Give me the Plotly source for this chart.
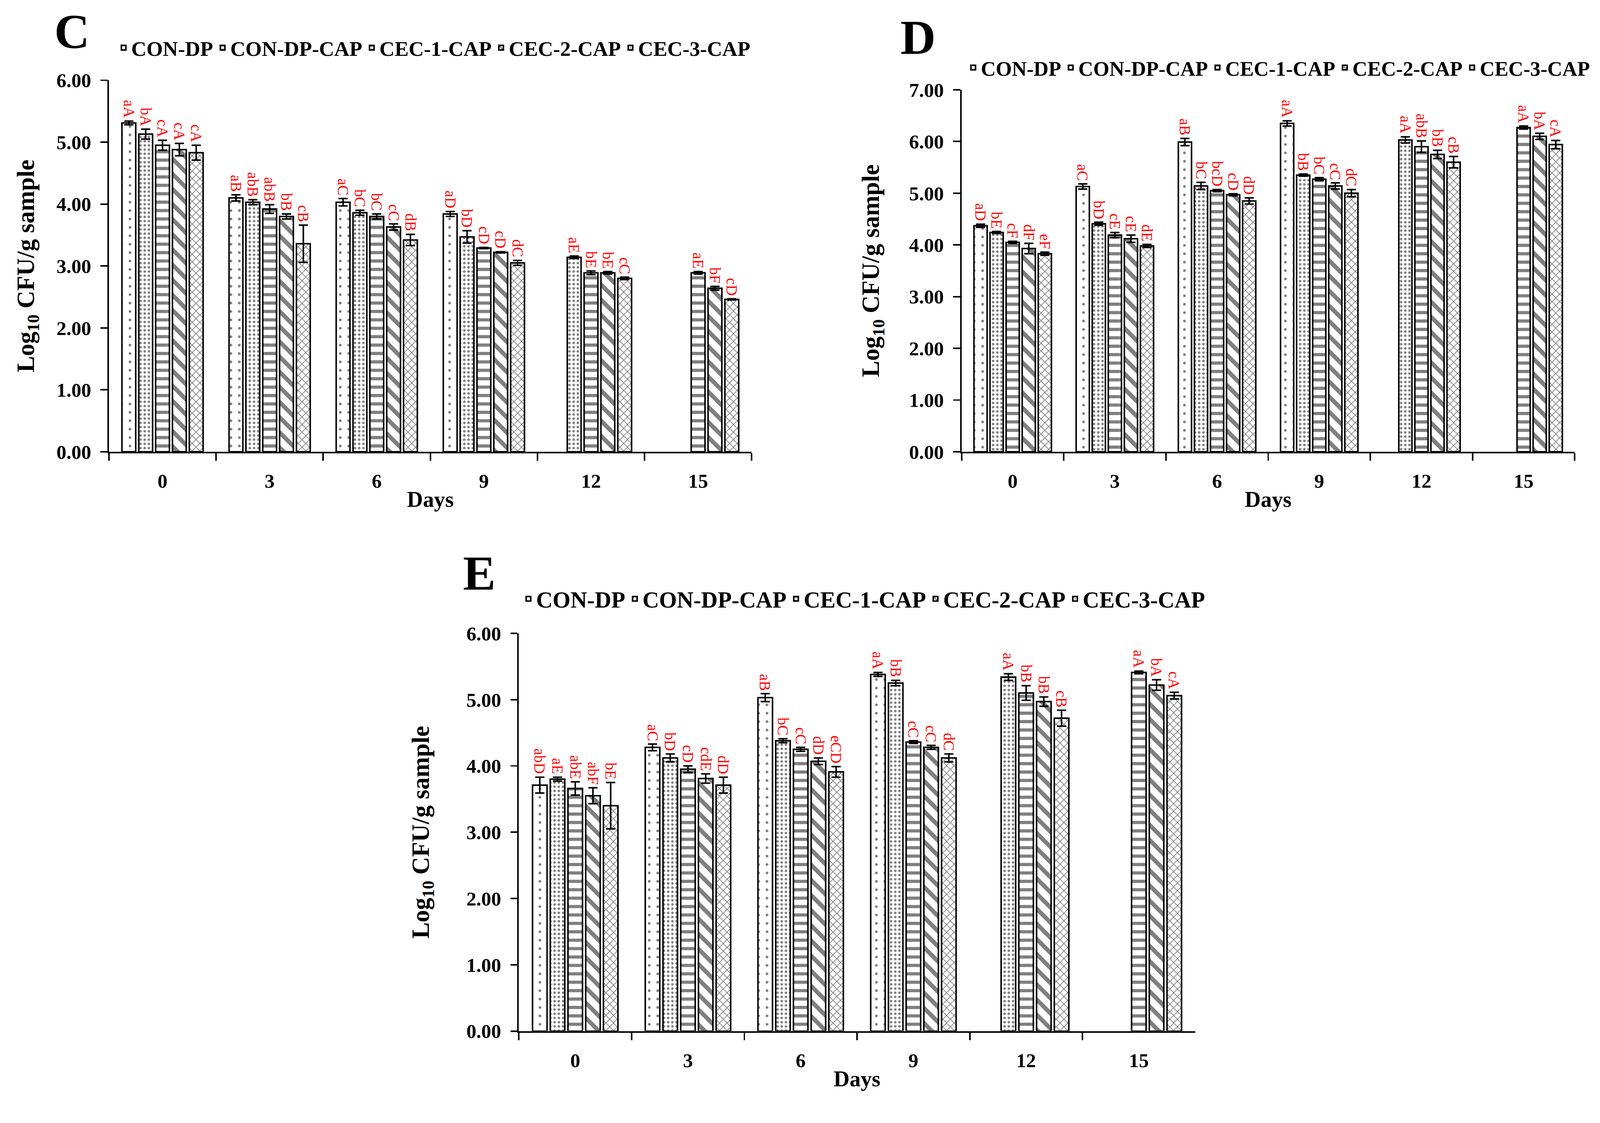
import plotly.graph_objects as go

days = ["0", "3", "6", "9", "12", "15"]
series = ["CON-DP", "CON-DP-CAP", "CEC-1-CAP", "CEC-2-CAP", "CEC-3-CAP"]

# ---------- Panel C ----------
c_means = [
    [5.31, 4.10, 4.03, 3.84, None, None],
    [5.13, 4.03, 3.86, 3.47, 3.14, None],
    [4.95, 3.92, 3.80, 3.29, 2.89, 2.89],
    [4.88, 3.80, 3.63, 3.22, 2.89, 2.64],
    [4.83, 3.36, 3.42, 3.05, 2.80, 2.46],
]
c_errors = [
    [0.03, 0.05, 0.06, 0.04, None, None],
    [0.08, 0.04, 0.04, 0.10, 0.02, None],
    [0.08, 0.07, 0.04, 0.01, 0.03, 0.02],
    [0.10, 0.04, 0.05, 0.01, 0.02, 0.03],
    [0.12, 0.30, 0.09, 0.04, 0.02, 0.01],
]
c_letters = [
    ["aA", "aB", "aC", "aD", None, None],
    ["bA", "abB", "bC", "bD", "aE", None],
    ["cA", "abB", "bC", "cD", "bE", "aE"],
    ["cA", "bB", "cC", "cD", "bE", "bF"],
    ["cA", "cB", "dB", "dC", "cC", "cD"],
]

# ---------- Panel D ----------
d_means = [
    [4.37, 5.13, 5.99, 6.35, None, None],
    [4.24, 4.41, 5.14, 5.35, 6.03, None],
    [4.05, 4.19, 5.05, 5.27, 5.90, 6.27],
    [3.93, 4.12, 4.97, 5.14, 5.75, 6.10],
    [3.83, 3.98, 4.85, 5.00, 5.60, 5.94],
]
d_errors = [
    [0.03, 0.05, 0.07, 0.05, None, None],
    [0.02, 0.03, 0.07, 0.02, 0.06, None],
    [0.02, 0.05, 0.02, 0.03, 0.11, 0.03],
    [0.10, 0.07, 0.02, 0.06, 0.08, 0.06],
    [0.03, 0.03, 0.06, 0.07, 0.11, 0.08],
]
d_letters = [
    ["aD", "aC", "aB", "aA", None, None],
    ["bE", "bD", "bC", "bB", "aA", None],
    ["cF", "cE", "bcD", "bC", "abB", "aA"],
    ["dF", "cE", "cD", "cC", "bB", "bA"],
    ["eF", "dE", "dD", "dC", "cB", "cA"],
]

# ---------- Panel E ----------
e_means = [
    [3.71, 4.28, 5.03, 5.38, None, None],
    [3.80, 4.12, 4.38, 5.25, 5.34, None],
    [3.66, 3.95, 4.25, 4.36, 5.10, 5.41],
    [3.55, 3.81, 4.07, 4.28, 4.97, 5.22],
    [3.40, 3.71, 3.91, 4.12, 4.72, 5.06],
]
e_errors = [
    [0.12, 0.05, 0.06, 0.03, None, None],
    [0.03, 0.06, 0.03, 0.04, 0.05, None],
    [0.10, 0.05, 0.03, 0.02, 0.11, 0.02],
    [0.12, 0.07, 0.05, 0.03, 0.07, 0.08],
    [0.35, 0.12, 0.08, 0.06, 0.12, 0.05],
]
e_letters = [
    ["abD", "aC", "aB", "aA", None, None],
    ["aE", "bD", "bC", "bB", "aA", None],
    ["abE", "cD", "cC", "cC", "bB", "aA"],
    ["abF", "cdE", "dD", "cC", "bB", "bA"],
    ["bE", "dD", "eCD", "dC", "cB", "cA"],
]

# ---------- Styling ----------
patterns = [
    dict(shape=".", size=22, solidity=0.08),
    dict(shape=".", size=11, solidity=0.28),
    dict(shape="-", size=22, solidity=0.38),
    dict(shape="\\", size=28, solidity=0.40),
    dict(shape="x", size=14, solidity=0.25),
]
BARGAP = 0.214
BARGROUPGAP = 0.18
FONT = "Liberation Serif"
W, H = 4185, 2876

fig = go.Figure()

panels = [
    dict(means=c_means, errs=c_errors, letters=c_letters, xa="x", ya="y", legend="legend",
         xdom=[0.0681, 0.4698], ydom=[0.5890, 0.9270], ymax=6, letter="C",
         lx=0.0449, ly=0.9711, legx=0.0725, legy=0.9565, legsize=55, tstand=38),
    dict(means=d_means, errs=d_errors, letters=d_letters, xa="x2", ya="y2", legend="legend2",
         xdom=[0.6010, 0.9842], ydom=[0.5890, 0.9183], ymax=7, letter="D",
         lx=0.5737, ly=0.9659, legx=0.6035, legy=0.9384, legsize=54, tstand=58),
    dict(means=e_means, errs=e_errors, letters=e_letters, xa="x3", ya="y3", legend="legend3",
         xdom=[0.3243, 0.7470], ydom=[0.0619, 0.4238], ymax=6, letter="E",
         lx=0.2996, ly=0.4784, legx=0.3255, legy=0.4552, legsize=60, tstand=78),
]

n = len(series)
slot = (1 - BARGAP) / n

annotations = []
for k, p in enumerate(panels):
    for i, name in enumerate(series):
        fig.add_trace(go.Bar(
            x=days, y=p["means"][i], name=name,
            xaxis=p["xa"], yaxis=p["ya"], legend=p["legend"],
            marker=dict(color="white", line=dict(color="black", width=4),
                        pattern=dict(fgcolor="black", bgcolor="white", fillmode="overlay",
                                     **patterns[i])),
            error_y=dict(type="data", array=p["errs"][i], visible=True,
                         color="black", thickness=4, width=12),
        ))
        offset = -(1 - BARGAP) / 2 + (i + 0.5) * slot
        for j, lab in enumerate(p["letters"][i]):
            if lab is None:
                continue
            annotations.append(dict(
                x=j + offset, y=p["means"][i][j] + p["errs"][i][j],
                xref=p["xa"], yref=p["ya"], text=lab, showarrow=False,
                textangle=90, xanchor="center", yanchor="bottom", yshift=6,
                font=dict(family=FONT, size=40, color="#FF0000"),
            ))
    annotations.append(dict(
        x=p["lx"], y=p["ly"], xref="paper", yref="paper", text="<b>%s</b>" % p["letter"],
        showarrow=False, xanchor="center", yanchor="middle",
        font=dict(family=FONT, size=128, color="black"),
    ))

axis_common = dict(showline=True, linecolor="black", linewidth=4, ticks="outside",
                   tickcolor="black", tickwidth=4, showgrid=False, zeroline=False,
                   automargin=False,
                   tickfont=dict(family=FONT, size=52, color="black", weight="bold"))

layout = dict(
    width=W, height=H, margin=dict(l=0, r=0, t=0, b=0, autoexpand=False),
    paper_bgcolor="white", plot_bgcolor="white",
    barmode="group", bargap=BARGAP, bargroupgap=BARGROUPGAP,
    annotations=annotations, showlegend=True,
)

for k, p in enumerate(panels):
    sfx = "" if k == 0 else str(k + 1)
    layout["xaxis" + sfx] = dict(
        domain=p["xdom"], anchor=p["ya"], type="category", tickson="boundaries",
        ticklen=20, range=[-0.5, 5.5], ticklabelstandoff=28,
        title=dict(text="<b>Days</b>", font=dict(family=FONT, size=58, color="black"),
                   standoff=0),
        **axis_common)
    layout["yaxis" + sfx] = dict(
        domain=p["ydom"], anchor=p["xa"], range=[0, p["ymax"]], dtick=1, tickformat=".2f",
        ticklen=18, ticklabelstandoff=14,
        title=dict(text="<b>Log<sub>10</sub> CFU/g sample</b>",
                   font=dict(family=FONT, size=64, color="black"), standoff=p["tstand"]),
        **axis_common)
    leg = "legend" + ("" if k == 0 else str(k + 1))
    layout[leg] = dict(
        orientation="h", x=p["legx"], y=p["legy"], xanchor="left", yanchor="middle",
        xref="paper", yref="paper", bgcolor="rgba(0,0,0,0)", itemwidth=30,
        font=dict(family=FONT, size=p["legsize"], color="black", weight="bold"),
        tracegroupgap=0,
    )

fig.update_layout(**layout)

fit_js = (
    "document.documentElement.style.margin='0';"
    "document.body.style.margin='0';document.body.style.overflow='hidden';"
    "var gd=document.querySelector('.plotly-graph-div');"
    "var s=Math.min(window.innerWidth/%d, window.innerHeight/%d, 1);"
    "if(s<1){gd.style.transformOrigin='0 0';gd.style.transform='scale('+s+')';}"
) % (W, H)

fig.write_html("out.html", config={"displayModeBar": False}, post_script=fit_js)
